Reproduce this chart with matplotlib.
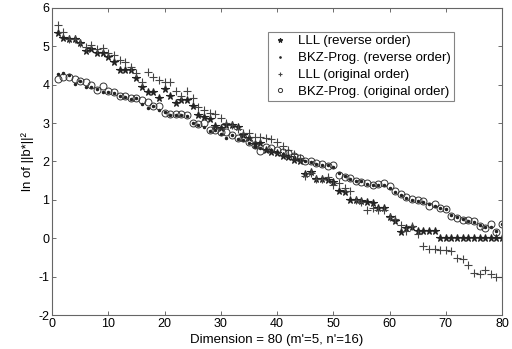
import matplotlib
matplotlib.use("Agg")
import matplotlib.pyplot as plt
import numpy as np

plt.rcParams['font.family'] = ['Liberation Sans', 'DejaVu Sans']
plt.rcParams['axes.unicode_minus'] = False

dims = list(range(1, 81))

lll_reverse = [5.34, 5.23, 5.18, 5.18, 5.08, 4.89, 4.92, 4.84, 4.84, 4.73,
               4.58, 4.39, 4.39, 4.39, 4.17, 3.93, 3.82, 3.82, 3.65, 3.88,
               3.71, 3.52, 3.60, 3.60, 3.45, 3.21, 3.17, 3.10, 2.93, 2.88,
               2.96, 2.96, 2.90, 2.70, 2.60, 2.45, 2.48, 2.30, 2.26, 2.22,
               2.15, 2.12, 2.05, 2.02, 1.68, 1.72, 1.55, 1.55, 1.52, 1.46,
               1.22, 1.20, 1.00, 1.00, 0.98, 0.95, 0.93, 0.80, 0.78, 0.56,
               0.45, 0.17, 0.26, 0.30, 0.20, 0.20, 0.20, 0.20, 0.00, 0.00,
               0.00, 0.00, 0.00, 0.00, 0.00, 0.00, 0.00, 0.00, 0.00, 0.00]

bkz_reverse = [4.28, 4.30, 4.25, 4.02, 4.11, 3.94, 3.95, 3.88, 3.80, 3.82,
               3.78, 3.70, 3.68, 3.62, 3.65, 3.50, 3.40, 3.45, 3.35, 3.30,
               3.22, 3.22, 3.20, 3.18, 3.00, 2.95, 2.90, 2.80, 2.82, 2.72,
               2.60, 2.70, 2.58, 2.55, 2.48, 2.38, 2.35, 2.30, 2.30, 2.25,
               2.20, 2.15, 2.12, 2.05, 2.00, 1.98, 1.94, 1.90, 1.90, 1.85,
               1.70, 1.62, 1.55, 1.50, 1.48, 1.42, 1.40, 1.38, 1.40, 1.30,
               1.20, 1.12, 1.05, 1.00, 0.97, 0.95, 0.88, 0.85, 0.80, 0.75,
               0.60, 0.55, 0.50, 0.45, 0.42, 0.35, 0.30, 0.30, 0.20, 0.38]

lll_original = [5.56, 5.38, 5.20, 5.18, 5.10, 4.99, 5.03, 4.92, 4.95, 4.82,
                4.77, 4.65, 4.60, 4.45, 4.30, 4.08, 4.34, 4.20, 4.12, 4.06,
                4.06, 3.85, 3.70, 3.85, 3.65, 3.42, 3.34, 3.27, 3.25, 3.13,
                3.00, 2.95, 2.85, 2.73, 2.73, 2.63, 2.63, 2.60, 2.58, 2.50,
                2.40, 2.30, 2.20, 2.10, 1.63, 1.70, 1.55, 1.55, 1.60, 1.39,
                1.45, 1.30, 1.22, 1.00, 0.95, 0.74, 0.80, 0.74, 0.74, 0.56,
                0.50, 0.35, 0.20, 0.32, 0.10, -0.20, -0.28, -0.28, -0.30, -0.30,
                -0.32, -0.52, -0.54, -0.69, -0.90, -0.93, -0.82, -0.92, -1.00, -1.02]

bkz_original = [4.14, 4.20, 4.19, 4.16, 4.11, 4.07, 3.99, 3.86, 3.96, 3.85,
                3.80, 3.70, 3.70, 3.66, 3.66, 3.61, 3.55, 3.44, 3.44, 3.27,
                3.25, 3.23, 3.23, 3.20, 3.00, 2.97, 3.00, 2.83, 2.83, 2.78,
                2.76, 2.68, 2.60, 2.60, 2.50, 2.43, 2.27, 2.38, 2.35, 2.30,
                2.24, 2.22, 2.15, 2.09, 2.02, 2.00, 1.96, 1.94, 1.89, 1.92,
                1.65, 1.60, 1.58, 1.50, 1.47, 1.45, 1.39, 1.42, 1.43, 1.35,
                1.22, 1.15, 1.08, 1.02, 1.00, 0.98, 0.83, 0.88, 0.80, 0.77,
                0.57, 0.52, 0.48, 0.47, 0.45, 0.32, 0.27, 0.36, 0.17, 0.36]

fig = plt.figure(figsize=(5.12, 3.49), dpi=100)
ax = fig.add_axes([0.1016, 0.0974, 0.8789, 0.8797])

c = '#222222'
ax.plot(dims, lll_reverse, linestyle='none', marker='*', markersize=5.5,
        color=c, markeredgewidth=0.8, label='LLL (reverse order)')
ax.plot(dims, bkz_reverse, linestyle='none', marker='.', markersize=3,
        color=c, label='BKZ-Prog. (reverse order)')
ax.plot(dims, lll_original, linestyle='none', marker='+', markersize=6,
        color='#444444', markeredgewidth=0.8, label='LLL (original order)')
ax.plot(dims, bkz_original, linestyle='none', marker='o', markersize=5,
        markerfacecolor='none', markeredgecolor='#333333', markeredgewidth=0.7,
        label='BKZ-Prog. (original order)')

ax.set_xlim(0, 80)
ax.set_ylim(-2, 6)
ax.set_xticks(range(0, 81, 10))
ax.set_yticks(range(-2, 7))
ax.tick_params(direction='in', top=True, right=True, labelsize=9, length=3,
               color='#555555', width=0.6, pad=2)
for s in ax.spines.values():
    s.set_color('#666666')
    s.set_linewidth(0.8)

ax.set_xlabel("Dimension = 80 (m'=5, n'=16)", fontsize=9.5, labelpad=3)
ax.set_ylabel("ln of ||b*||\u00b2", fontsize=9.5, labelpad=3)

leg = ax.legend(loc='upper left', bbox_to_anchor=(0.48, 0.922), fontsize=9.5,
                frameon=True, fancybox=False, edgecolor='#666666',
                handlelength=1.3, handletextpad=0.7, borderpad=0.25,
                labelspacing=0.35, markerscale=0.6, borderaxespad=0)
leg.get_frame().set_linewidth(0.8)

fig.savefig('out.png', dpi=100)
